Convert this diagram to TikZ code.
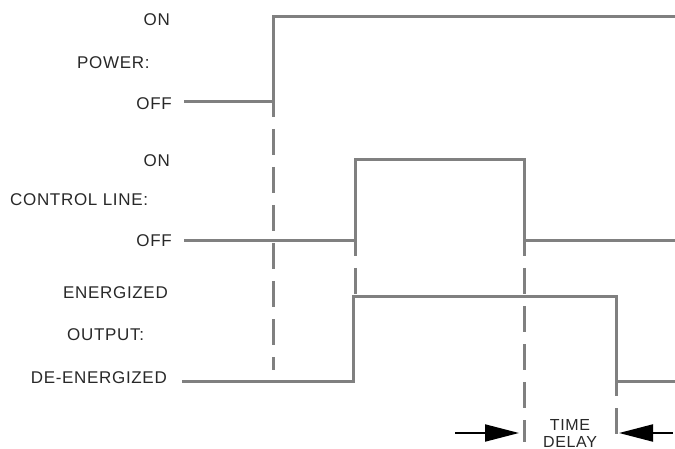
\documentclass[tikz,border=0pt]{standalone}
\usepackage{fontspec}
\setmainfont{Liberation Sans}[LetterSpace=4]
\usetikzlibrary{arrows.meta}
\definecolor{wave}{RGB}{128,128,128}
\definecolor{txt}{RGB}{40,40,40}
\tikzset{
  lbl/.style={text=txt,font=\fontsize{17}{18}\selectfont,inner sep=0pt,anchor=east},
  lblw/.style={text=txt,font=\fontsize{17}{18}\selectfont,inner sep=0pt,anchor=west},
  wv/.style={draw=wave,line width=3pt,line join=miter},
  guide/.style={draw=wave,line width=3pt,dash pattern=on 26pt off 12pt},
  dim/.style={draw=black,line width=2pt,-{Triangle[length=34pt,width=17pt]}}
}
\begin{document}
\begin{tikzpicture}[x=1pt,y=-1pt]
\useasboundingbox (0,0) rectangle (675,449);
% labels
\node[lbl] (pon) at (170,20) {ON};
\node[lblw] (ppow) at (77,63) {POWER:};
\node[lbl] (poff) at (172,104) {OFF};
\node[lbl] (con) at (170,161) {ON};
\node[lblw] (cline) at (10,200) {CONTROL LINE:};
\node[lbl] (coff) at (172,241) {OFF};
\node[lbl] (oen) at (168,293) {ENERGIZED};
\node[lblw] (oout) at (67,335) {OUTPUT:};
\node[lbl] (ode) at (167,378) {DE-ENERGIZED};
% power waveform
\coordinate (p0) at (184,102);
\coordinate (p1) at (273,102);
\coordinate (p2) at (273,17);
\coordinate (p3) at (676,17);
\draw[wv] (p0) -- (p1) -- (p2) -- (p3);
% control line waveform
\coordinate (c0) at (184,241);
\coordinate (c1) at (355,241);
\coordinate (c2) at (355,160);
\coordinate (c3) at (524,160);
\coordinate (c4) at (524,241);
\coordinate (c5) at (676,241);
\draw[wv] (c0) -- (c1) -- (c2) -- (c3) -- (c4) -- (c5);
% output waveform
\coordinate (o0) at (182,381);
\coordinate (o1) at (353,381);
\coordinate (o2) at (353,296);
\coordinate (o3) at (616,296);
\coordinate (o4) at (616,381);
\coordinate (o5) at (676,381);
\draw[wv] (o0) -- (o1) -- (o2) -- (o3) -- (o4) -- (o5);
% guide lines
\coordinate (g1e) at (273,370);
\coordinate (g2e) at (355,296);
\coordinate (g3e) at (524,442);
\coordinate (g4e) at (616,442);
\draw[guide] ([yshift=11pt]p1) -- (g1e);
\draw[guide] ([yshift=11pt]c1) -- (g2e);
\draw[guide] ([yshift=11pt]c4) -- (g3e);
\draw[guide] ([yshift=11pt]o4) -- (g4e);
% time delay
\coordinate (a1s) at (455,433);
\coordinate (a1e) at (519,433);
\coordinate (a2s) at (673,433);
\coordinate (a2e) at (619,433);
\draw[dim] (a1s) -- (a1e);
\draw[dim] (a2s) -- (a2e);
\node[text=txt,font=\fontsize{16}{17}\selectfont,align=center,inner sep=0pt] (td) at (570,433) {TIME\\DELAY};
\end{tikzpicture}
\end{document}
